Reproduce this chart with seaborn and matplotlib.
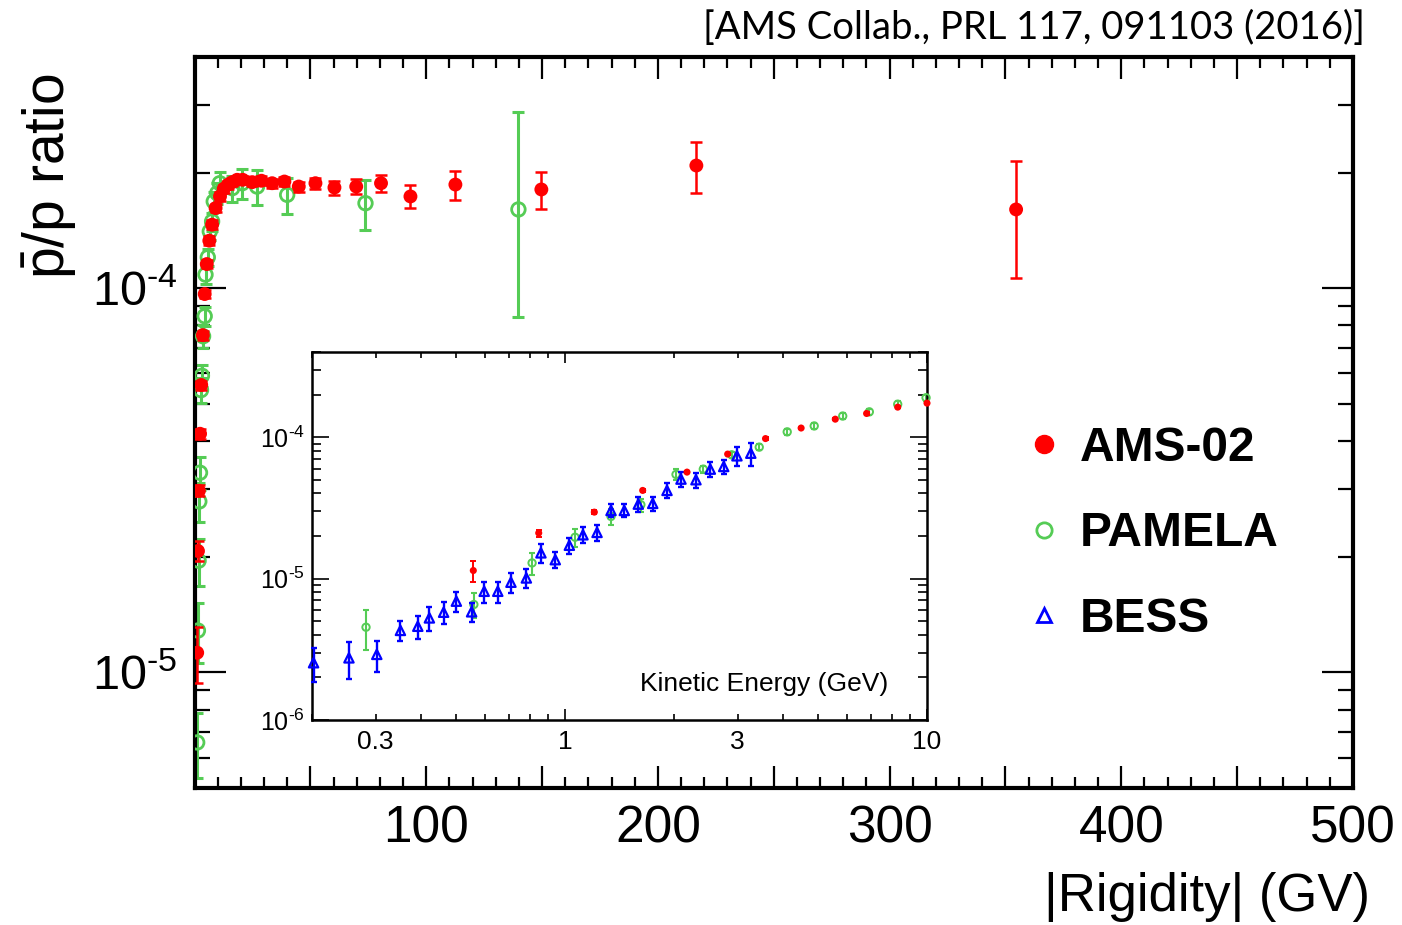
import numpy as np
import matplotlib
matplotlib.use("Agg")
import matplotlib.pyplot as plt
import seaborn as sns
from matplotlib.ticker import MultipleLocator, LogLocator, NullFormatter, FuncFormatter
from matplotlib.lines import Line2D

# ---------------- data: main panel (antiproton / proton ratio vs |rigidity|) ----------------
ams_rig = [1.16, 1.5, 1.9, 2.4, 2.9, 3.6, 4.4, 5.3, 6.4, 7.6, 9.1, 11.0, 12.6, 14.4, 16.3,
           18.4, 20.8, 24.9, 28.9, 33.5, 38.8, 45.0, 52.2, 60.4, 69.8, 80.5, 93.2, 112.6,
           149.7, 216.6, 354.6]
ams_ratio = [1.125e-5, 2.07e-5, 2.97e-5, 4.18e-5, 5.6e-5, 7.55e-5, 9.66e-5, 1.156e-4,
             1.33e-4, 1.464e-4, 1.617e-4, 1.734e-4, 1.815e-4, 1.859e-4, 1.889e-4, 1.916e-4,
             1.916e-4, 1.889e-4, 1.905e-4, 1.877e-4, 1.896e-4, 1.84e-4, 1.877e-4, 1.829e-4,
             1.84e-4, 1.877e-4, 1.734e-4, 1.862e-4, 1.808e-4, 2.087e-4, 1.604e-4]
ams_err = [1.85e-6, 1.25e-6, 1.0e-6, 1.2e-6, 1.5e-6, 2.0e-6, 2.5e-6, 3.0e-6, 3.5e-6,
           3.8e-6, 4.0e-6, 4.5e-6, 4.5e-6, 4.5e-6, 4.5e-6, 4.5e-6, 4.5e-6, 4.5e-6, 5.0e-6,
           5.0e-6, 5.0e-6, 5.5e-6, 6.0e-6, 7.5e-6, 8.0e-6, 1.0e-5, 1.2e-5, 1.6e-5, 2.0e-5,
           3.2e-5, 5.4e-5]

pam_rig = [1.16, 1.48, 1.77, 2.08, 2.38, 2.81, 3.21, 3.71, 4.4, 4.75, 5.74, 6.6, 7.6, 8.3,
           9.8, 10.9, 16.3, 20.6, 27.0, 40.0, 73.8, 139.8]
pam_ratio = [6.57e-6, 1.285e-5, 1.953e-5, 2.786e-5, 3.31e-5, 5.43e-5, 5.92e-5, 7.5e-5,
             8.46e-5, 1.085e-4, 1.204e-4, 1.406e-4, 1.493e-4, 1.683e-4, 1.768e-4, 1.877e-4,
             1.822e-4, 1.877e-4, 1.84e-4, 1.751e-4, 1.665e-4, 1.604e-4]
pam_err_lo = [1.25e-6, 2.3e-6, 2.7e-6, 3.2e-6, 3.3e-6, 4.0e-6, 4.0e-6, 5.0e-6, 5.0e-6,
              6.0e-6, 6.0e-6, 7.0e-6, 8.0e-6, 1.0e-5, 1.1e-5, 1.3e-5, 1.4e-5, 1.65e-5,
              1.9e-5, 1.9e-5, 2.5e-5, 7.6e-5]
pam_err_hi = [1.25e-6, 2.3e-6, 2.7e-6, 3.2e-6, 3.3e-6, 4.0e-6, 4.0e-6, 5.0e-6, 5.0e-6,
              6.0e-6, 6.0e-6, 7.0e-6, 8.0e-6, 1.0e-5, 1.1e-5, 1.3e-5, 1.4e-5, 1.65e-5,
              1.9e-5, 1.9e-5, 2.5e-5, 1.28e-4]

# ---------------- data: inset (ratio vs kinetic energy) ----------------
ams_ke = [0.558, 0.846, 1.205, 1.639, 2.173, 2.814, 3.58, 4.49, 5.58, 6.81, 8.30, 10.0]
ams_ke_ratio = [1.14e-5, 2.1e-5, 2.95e-5, 4.2e-5, 5.66e-5, 7.59e-5, 9.77e-5, 1.16e-4,
                1.34e-4, 1.47e-4, 1.63e-4, 1.74e-4]
ams_ke_err = [1.9e-6, 1.2e-6, 1.0e-6, 1.0e-6, 1.2e-6, 1.5e-6, 2.0e-6, 2.0e-6, 2.5e-6,
              3.0e-6, 3.0e-6, 3.5e-6]

pam_ke = [0.282, 0.560, 0.811, 1.066, 1.34, 1.62, 2.026, 2.41, 2.887, 3.44, 4.11, 4.88,
          5.85, 6.93, 8.30, 9.94]
pam_ke_ratio = [4.53e-6, 6.56e-6, 1.29e-5, 1.96e-5, 2.75e-5, 3.33e-5, 5.45e-5, 5.94e-5,
                7.5e-5, 8.5e-5, 1.09e-4, 1.2e-4, 1.41e-4, 1.51e-4, 1.71e-4, 1.9e-4]
pam_ke_err = [1.42e-6, 1.33e-6, 2.25e-6, 2.75e-6, 3.5e-6, 3.5e-6, 4.7e-6, 3.5e-6, 4.0e-6,
              4.0e-6, 5.0e-6, 6.0e-6, 7.0e-6, 8.0e-6, 9.0e-6, 1.0e-5]

bess_ke = [0.202, 0.253, 0.302, 0.351, 0.392, 0.422, 0.462, 0.501, 0.552, 0.598, 0.652,
           0.709, 0.782, 0.858, 0.940, 1.028, 1.121, 1.226, 1.34, 1.458, 1.594, 1.747,
           1.913, 2.091, 2.30, 2.52, 2.744, 2.985, 3.26]
bess_ke_ratio = [2.54e-6, 2.75e-6, 2.91e-6, 4.3e-6, 4.6e-6, 5.27e-6, 5.78e-6, 6.92e-6,
                 5.82e-6, 8.13e-6, 8.13e-6, 9.42e-6, 1.01e-5, 1.52e-5, 1.36e-5, 1.72e-5,
                 2.04e-5, 2.12e-5, 3.03e-5, 3.03e-5, 3.36e-5, 3.4e-5, 4.2e-5, 5.05e-5,
                 5.0e-5, 5.94e-5, 6.2e-5, 7.38e-5, 7.7e-5]
bess_ke_err = [0.68e-6, 0.8e-6, 0.72e-6, 0.7e-6, 0.85e-6, 1.0e-6, 1.0e-6, 1.1e-6, 0.87e-6,
               1.4e-6, 1.4e-6, 1.57e-6, 1.5e-6, 2.3e-6, 1.8e-6, 2.2e-6, 2.6e-6, 2.7e-6,
               3.2e-6, 3.2e-6, 4.1e-6, 4.0e-6, 5.1e-6, 6.2e-6, 6.0e-6, 7.0e-6, 7.0e-6,
               1.14e-5, 1.4e-5]

series_names = ["AMS-02", "PAMELA", "BESS"]
RED, GREEN, BLUE = "#ff0000", "#55cc55", "#0000ff"

# ---------------- style ----------------
sns.set_theme(style="ticks")
plt.rcParams["font.family"] = ["Liberation Sans", "DejaVu Sans"]
plt.rcParams["mathtext.fontset"] = "custom"
plt.rcParams["mathtext.rm"] = "Liberation Sans"
plt.rcParams["mathtext.it"] = "Liberation Sans:italic"
plt.rcParams["mathtext.bf"] = "Liberation Sans:bold"
plt.rcParams["text.color"] = "black"
plt.rcParams["axes.labelcolor"] = "black"
plt.rcParams["xtick.color"] = "black"
plt.rcParams["ytick.color"] = "black"


def decade_label(v, pos):
    """Power-of-ten label written with a plain hyphen in the exponent."""
    if v <= 0:
        return ""
    e = int(round(np.log10(v)))
    if abs(v - 10.0 ** e) > 1e-3 * 10.0 ** e:
        return ""
    return r"$10^{\text{" + str(e) + "}}$"


fig = plt.figure(figsize=(14.02, 9.25), dpi=100)
fig.patch.set_facecolor("white")

# ---------------- main panel ----------------
ax = fig.add_axes([194.5 / 1402, 1 - 788 / 925, (1353 - 194.5) / 1402, (788 - 57) / 925])
ax.set_xlim(0, 500)
ax.set_yscale("log")
ax.set_ylim(5e-6, 4e-4)

ax.errorbar(pam_rig, pam_ratio, yerr=[pam_err_lo, pam_err_hi], fmt="none", ecolor=GREEN,
            elinewidth=2.2, capsize=4, capthick=2.2, zorder=2)
sns.scatterplot(x=pam_rig, y=pam_ratio, ax=ax, marker="o", s=95, facecolor="none",
                edgecolor=GREEN, linewidth=2.0, zorder=3, legend=False)
ax.errorbar(ams_rig, ams_ratio, yerr=ams_err, fmt="none", ecolor=RED, elinewidth=1.8,
            capsize=4, capthick=1.8, zorder=4)
sns.scatterplot(x=ams_rig, y=ams_ratio, ax=ax, marker="o", s=100, color=RED,
                edgecolor="none", linewidth=0, zorder=5, legend=False)

ax.xaxis.set_major_locator(MultipleLocator(50))
ax.xaxis.set_minor_locator(MultipleLocator(10))
ax.xaxis.set_major_formatter(FuncFormatter(
    lambda v, p: f"{int(round(v))}" if (round(v) % 100 == 0 and v > 0) else ""))
ax.yaxis.set_major_locator(LogLocator(base=10, numticks=10))
ax.yaxis.set_minor_locator(LogLocator(base=10, subs=np.arange(2, 10), numticks=20))
ax.yaxis.set_major_formatter(FuncFormatter(decade_label))
ax.yaxis.set_minor_formatter(NullFormatter())

ax.tick_params(axis="x", which="major", direction="in", length=16, width=1.6, top=True,
               labelsize=37, pad=12, colors="black")
ax.tick_params(axis="x", which="minor", direction="in", length=8, width=1.6, top=True)
ax.tick_params(axis="y", which="major", direction="in", length=22, width=1.6, right=True,
               labelsize=35, pad=12, colors="black")
ax.tick_params(axis="y", which="minor", direction="in", length=11, width=1.6, right=True)
for sp in ax.spines.values():
    sp.set_linewidth(3)
    sp.set_color("black")
ax.set_xlabel("")
ax.set_ylabel("")

# legend
handles = [
    Line2D([], [], ls="none", marker="o", ms=13, mfc=RED, mec=RED),
    Line2D([], [], ls="none", marker="o", ms=11, mfc="none", mec=GREEN, mew=2),
    Line2D([], [], ls="none", marker="^", ms=10, mfc="none", mec=BLUE, mew=2),
]
leg = ax.legend(handles, series_names, loc="center left",
                bbox_to_anchor=(1020 / 1402, 1 - 534 / 925),
                bbox_transform=fig.transFigure, frameon=False,
                prop={"weight": "bold", "size": 34.5}, labelspacing=0.85, handlelength=1.0,
                handletextpad=0.25, borderpad=0, borderaxespad=0)
for t in leg.get_texts():
    t.set_color("black")

# ---------------- inset ----------------
ins = fig.add_axes([312 / 1402, 1 - 720 / 925, 615 / 1402, 368 / 925])
ins.set_xscale("log")
ins.set_yscale("log")
ins.set_xlim(0.2, 10)
ins.set_ylim(1e-6, 4e-4)

ins.errorbar(pam_ke, pam_ke_ratio, yerr=pam_ke_err, fmt="none", ecolor=GREEN,
             elinewidth=1.5, capsize=2, capthick=1.5, zorder=2, clip_on=False)
sns.scatterplot(x=pam_ke, y=pam_ke_ratio, ax=ins, marker="o", s=28, facecolor="none",
                edgecolor=GREEN, linewidth=1.4, zorder=3, legend=False, clip_on=False)
ins.errorbar(bess_ke, bess_ke_ratio, yerr=bess_ke_err, fmt="none", ecolor=BLUE,
             elinewidth=1.7, capsize=2, capthick=1.7, zorder=4, clip_on=False)
sns.scatterplot(x=bess_ke, y=bess_ke_ratio, ax=ins, marker="^", s=45, facecolor="none",
                edgecolor=BLUE, linewidth=1.6, zorder=5, legend=False, clip_on=False)
ins.errorbar(ams_ke, ams_ke_ratio, yerr=ams_ke_err, fmt="none", ecolor=RED,
             elinewidth=1.4, capsize=2, capthick=1.4, zorder=6, clip_on=False)
sns.scatterplot(x=ams_ke, y=ams_ke_ratio, ax=ins, marker="o", s=26, color=RED,
                edgecolor="none", linewidth=0, zorder=7, legend=False, clip_on=False)

ins.xaxis.set_major_locator(LogLocator(base=10, numticks=10))
ins.xaxis.set_minor_locator(LogLocator(base=10, subs=np.arange(2, 10), numticks=20))
ins.xaxis.set_major_formatter(FuncFormatter(lambda v, p: f"{v:g}"))
ins.xaxis.set_minor_formatter(FuncFormatter(
    lambda v, p: f"{v:g}" if (abs(v - 0.3) < 1e-6 or abs(v - 3) < 1e-6) else ""))
ins.yaxis.set_major_locator(LogLocator(base=10, numticks=10))
ins.yaxis.set_minor_locator(LogLocator(base=10, subs=np.arange(2, 10), numticks=20))
ins.yaxis.set_major_formatter(FuncFormatter(decade_label))
ins.yaxis.set_minor_formatter(NullFormatter())

ins.tick_params(axis="x", which="both", direction="in", top=True, width=1.2,
                labelsize=19, pad=7, colors="black")
ins.tick_params(axis="x", which="major", length=8)
ins.tick_params(axis="x", which="minor", length=4.5)
ins.tick_params(axis="y", which="both", direction="in", right=True, width=1.2,
                labelsize=18, pad=5, colors="black")
ins.tick_params(axis="y", which="major", length=12)
ins.tick_params(axis="y", which="minor", length=6.5)
for sp in ins.spines.values():
    sp.set_linewidth(1.8)
    sp.set_color("black")
ins.set_xlabel("")
ins.set_ylabel("")
ins.text(0.937, 0.098, "Kinetic Energy (GeV)", transform=ins.transAxes, ha="right",
         va="center", fontsize=19, color="black")

# ---------------- labels ----------------
fig.text(0.035, 0.81, r"$\bar{\mathrm{p}}$/p ratio", rotation=90, ha="center",
         va="center", fontsize=41, color="black")
fig.text(1370 / 1402, 1 - 897 / 925, "|Rigidity| (GV)", ha="right", va="center",
         fontsize=38, color="black")
fig.text(1365 / 1402, 1 - 28 / 925, "[AMS Collab., PRL 117, 091103 (2016)]", ha="right",
         va="center", fontsize=27.5, color="black", family=["Lato", "DejaVu Sans"])

fig.savefig("out.png", dpi=100, facecolor="white")
